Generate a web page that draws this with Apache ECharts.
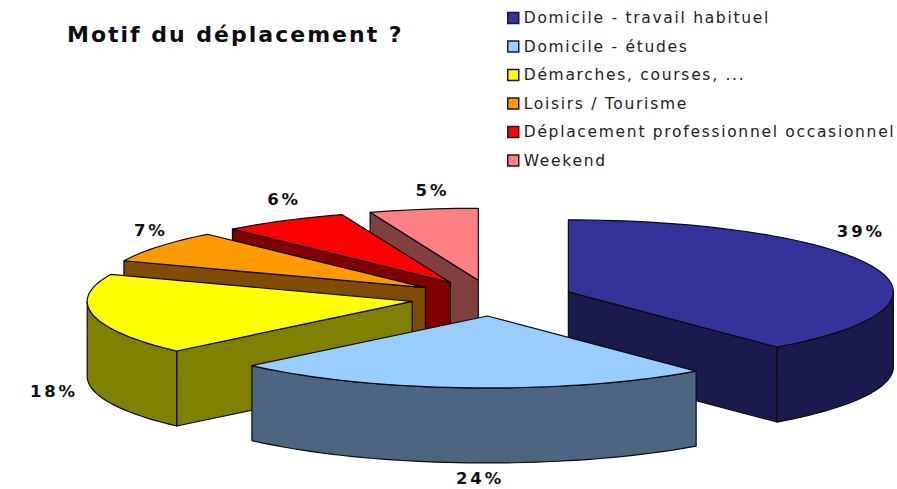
<!DOCTYPE html>
<html>
<head>
<meta charset="utf-8">
<style>
html,body{margin:0;padding:0;background:#fff}#c{width:897px;height:489px}
#c svg text[style*="22px"]{letter-spacing:2px}
#c svg text[style*="15.5px"]{letter-spacing:1.7px}
#c svg text[style*="16.5px"]{letter-spacing:2.8px}
</style>
<script src="https://cdn.jsdelivr.net/npm/echarts@6/dist/echarts.min.js"></script>
</head>
<body>
<div id="c"></div>
<script>
const categories = ['Domicile - travail habituel','Domicile - études','Démarches, courses, ...','Loisirs / Tourisme','Déplacement professionnel occasionnel','Weekend'];
const values = [38.9, 24.0, 18.2, 7.2, 6.3, 5.4];
const labels = ['39%','24%','18%','7%','6%','5%'];
const topColors = ['#333399','#99CCFF','#FFFF00','#FF9900','#FF0000','#FF8080'];
const sideColors = ['#1a1a4d','#4d6680','#808000','#804d00','#800000','#804040'];
const paintOrder = [4,5,3,2,1,0];       // z rank of each slice, back to front
const labelShift = [[-13,-36],[11,16],[-39,2],[-8,-16],[0,-21],[9,-19]];

const pie = {cx:492, cy:298, rx:325, ry:72, depth:75, explode:0.25};
const total = values.reduce((a,b)=>a+b,0);
const RAD = Math.PI/180;

function sliceAngles(i){
  let s = 0;
  for (let k=0;k<i;k++) s += values[k];
  return [s/total*360, (s+values[i])/total*360];
}
function renderSlice(i){
  return function(params, api){
    const v = api.value(0);
    const a = sliceAngles(i), a0 = a[0], a1 = a0 + v/total*360, mid = (a0+a1)/2;
    const ox = pie.cx + pie.explode*pie.rx*Math.sin(mid*RAD);
    const oy = pie.cy - pie.explode*pie.ry*Math.cos(mid*RAD);
    const P = (d,h)=>[ox+pie.rx*Math.sin(d*RAD), oy-pie.ry*Math.cos(d*RAD)+(h||0)];
    const arc = (from,to,h)=>{
      const pts=[], n=Math.max(1,Math.ceil(Math.abs(to-from)/2));
      for(let k=0;k<=n;k++) pts.push(P(from+(to-from)*k/n,h));
      return pts;
    };
    const side = sideColors[i];
    const style = c=>({fill:c, stroke:'#0a0a14', lineWidth:1.2, lineJoin:'round'});
    const poly = (pts,c)=>({type:'polygon', shape:{points:pts}, style:style(c)});
    const kids = [];
    if (Math.sin(a0*RAD) < -1e-6)
      kids.push(poly([[ox,oy],P(a0),P(a0,pie.depth),[ox,oy+pie.depth]],side));
    if (Math.sin(a1*RAD) > 1e-6)
      kids.push(poly([[ox,oy],P(a1),P(a1,pie.depth),[ox,oy+pie.depth]],side));
    const f = Math.max(a0,90), t = Math.min(a1,270);
    if (t > f) kids.push(poly(arc(f,t,0).concat(arc(t,f,pie.depth)),side));
    kids.push(poly([[ox,oy]].concat(arc(a0,a1,0)),topColors[i]));
    const front = mid > 90 && mid < 270;
    const rim = P(mid, front ? pie.depth : 0);
    kids.push({type:'text', x:rim[0]+labelShift[i][0], y:rim[1]+labelShift[i][1],
      style:{text:labels[i], fill:'#111', font:'bold 16.5px "DejaVu Sans"', align:'center', verticalAlign:'middle'}});
    return {type:'group', children:kids};
  };
}
const chart = echarts.init(document.getElementById('c'), null, {renderer:'svg'});
chart.setOption({
  animation:false,
  backgroundColor:'#ffffff',
  title:{text:'Motif du déplacement ?', left:62, top:18,
    textStyle:{fontFamily:'DejaVu Sans', fontWeight:'bold', fontSize:22, color:'#0c0c14'}},
  legend:{
    data:categories, orient:'vertical', left:502, top:5, itemWidth:11, itemHeight:11, itemGap:12.5, icon:'rect',
    selectedMode:false,
    itemStyle:{borderColor:'#1a1a2a', borderWidth:1.5},
    textStyle:{fontFamily:'DejaVu Sans', fontSize:15.5, color:'#222'}
  },
  series: categories.map((name,i)=>({
    type:'custom', name, coordinateSystem:'none', z:2+paintOrder[i],
    itemStyle:{color:topColors[i]},
    data:[[values[i]]], renderItem:renderSlice(i)
  }))
});
</script>
</body>
</html>
